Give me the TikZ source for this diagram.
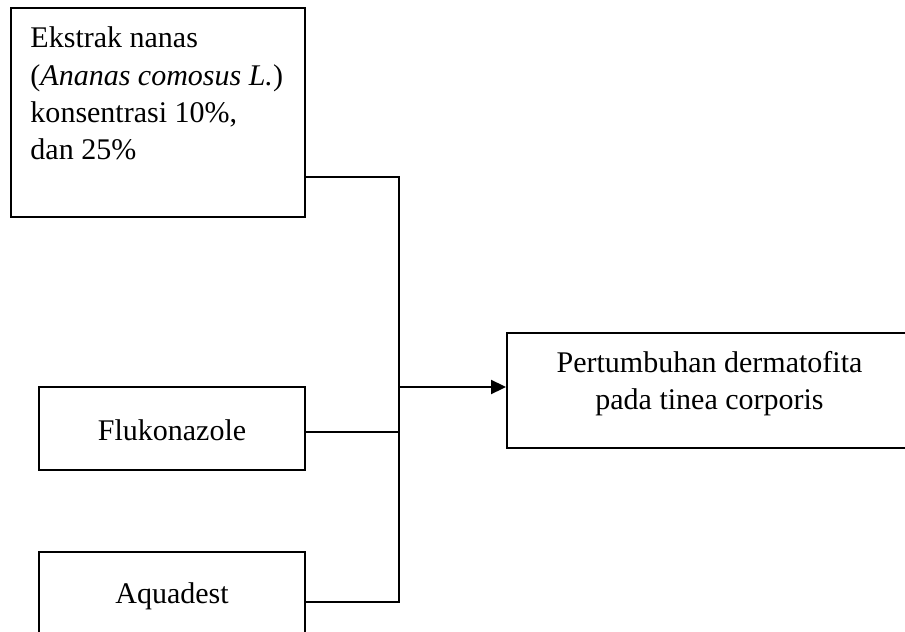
\documentclass[tikz,border=0pt]{standalone}
\usepackage{fontspec}
\setmainfont{Liberation Serif}
\usetikzlibrary{arrows.meta,positioning,calc}

\begin{document}
\begin{tikzpicture}[
  x=0.4pt, y=-0.4pt,
  box/.style={draw, line width=0.75pt, inner sep=0pt, align=center,
              font=\fontsize{12}{14.9}\selectfont},
  txt/.style={inner sep=0pt, font=\fontsize{12}{14.9}\selectfont},
  wire/.style={line width=0.75pt},
  >={Triangle[length=6pt, width=5.6pt]}
]
  \useasboundingbox (0,0) rectangle (905,632);

  \node[box, minimum width=117.6pt, minimum height=83.6pt] (ekstrak) at (158,112.5) {};
  \node[txt, anchor=north west, align=left] (ekstraktxt) at (30,26.5)
        {Ekstrak nanas\\(\textit{Ananas comosus L.})\\konsentrasi 10\%,\\dan 25\%};
  \node[box, minimum width=106.4pt, minimum height=33.2pt] (fluko) at (172,428.5) {};
  \node[txt, anchor=base] (flukotxt) at (172,440) {Flukonazole};
  \node[box, minimum width=106.4pt, minimum height=33.2pt] (aquadest) at (172,593.5) {};
  \node[txt, anchor=base] (aquadesttxt) at (172,603) {Aquadest};
  \node[box, minimum width=162pt, minimum height=46pt] (tumbuh) at (709.5,390.5) {};
  \node[txt, anchor=north, align=center] (tumbuhtxt) at (709.5,350.5)
        {Pertumbuhan dermatofita\\pada tinea corporis};

  \coordinate (bus) at (399,387);
  \draw[wire] ([yshift=16.4pt]ekstrak.south east) -| (bus);
  \draw[wire] ([yshift=-1.4pt]fluko.east) -| (bus);
  \draw[wire] ([yshift=-3.4pt]aquadest.east) -| (bus);
  \draw[wire, ->] (bus) -- (bus -| tumbuh.west);
\end{tikzpicture}
\end{document}
